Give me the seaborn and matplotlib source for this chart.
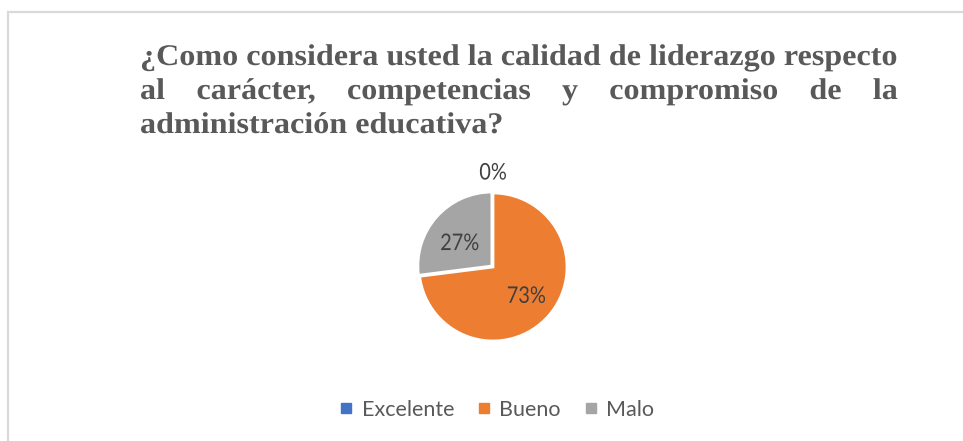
import matplotlib
matplotlib.use("Agg")
import matplotlib.pyplot as plt
import seaborn as sns
from matplotlib.patches import Rectangle
from matplotlib.lines import Line2D
from matplotlib.patheffects import AbstractPathEffect
from matplotlib.transforms import Affine2D
import numpy as np

categories = ["Excelente", "Bueno", "Malo"]
values = [0, 73, 27]
colors = ["#4472C4", "#ED7D31", "#A5A5A5"]
title_lines = ["¿Como considera usted la calidad de liderazgo respecto",
               "al carácter, competencias y compromiso de la",
               "administración educativa?"]

sns.set_theme(style="white")
plt.rcParams['font.family'] = ['Lato', 'DejaVu Sans']


class XScale(AbstractPathEffect):
    """Horizontally condense drawn text around an anchor x (display px)."""
    def __init__(self, sx, x0):
        super().__init__()
        self.sx = sx
        self.x0 = x0

    def draw_path(self, renderer, gc, tpath, affine, rgbFace=None):
        aff = affine + Affine2D().translate(-self.x0, 0).scale(self.sx, 1).translate(self.x0, 0)
        renderer.draw_path(gc, tpath, aff, rgbFace)


W, H = 963, 441
fig = plt.figure(figsize=(W / 100, H / 100), dpi=100)
fig.patch.set_facecolor("white")

# chart border (light gray, cropped on right/bottom)
border = Rectangle((8 / W, -0.1), 1.2, (H - 12) / H + 0.1, transform=fig.transFigure,
                   fill=False, edgecolor="#D9D9D9", linewidth=1.6)
fig.add_artist(border)

# Pie axes
cx, cy, r = 493, 267, 74
ax = fig.add_axes([(cx - r) / W, (H - cy - r) / H, 2 * r / W, 2 * r / H])
wedges, _ = ax.pie(values, colors=colors, startangle=90, counterclock=False,
                   explode=[0, 0, 0.02],
                   wedgeprops=dict(edgecolor="white", linewidth=2), radius=1)
ax.set_xlim(-1, 1)
ax.set_ylim(-1, 1)
ax.set_aspect("equal")
ax.axis("off")

fig.canvas.draw()
renderer = fig.canvas.get_renderer()

total = sum(values)
for w, v in zip(wedges, values):
    ang = np.deg2rad((w.theta1 + w.theta2) / 2)
    d = 0.6 if v > 0 else 1.27
    lx, ly = d * np.cos(ang), d * np.sin(ang)
    if v > 0 and ly > 0:
        ly -= 0.08
    px = ax.transData.transform((lx, ly))[0]
    ax.text(lx, ly, f"{round(100 * v / total)}%",
            ha="center", va="center", fontsize=16.5, color="#404040", clip_on=False,
            path_effects=[XScale(0.87, px)])

# Title (serif bold, condensed, justified)
x0, x1 = 140, 898
tcolor = "#595959"
tfont = dict(family="Liberation Serif", weight="bold", color=tcolor)
fsize = 21.6


def text_width(s, size):
    t = fig.text(0, 0, s, fontsize=size, **tfont)
    w = t.get_window_extent(renderer).width
    t.remove()
    return w


sx = (x1 - x0) / text_width(title_lines[0], fsize)
ys = [65, 99, 133]
fig.text(x0 / W, 1 - ys[0] / H, title_lines[0], fontsize=fsize, va="baseline", ha="left",
         path_effects=[XScale(sx, x0)], **tfont)
words = title_lines[1].split(" ")
widths = [text_width(wd, fsize) * sx for wd in words]
gap = ((x1 - x0) - sum(widths)) / (len(words) - 1)
x = x0
for wd, wdt in zip(words, widths):
    fig.text(x / W, 1 - ys[1] / H, wd, fontsize=fsize, va="baseline", ha="left",
             path_effects=[XScale(sx, x)], **tfont)
    x += wdt + gap
fig.text(x0 / W, 1 - ys[2] / H, title_lines[2], fontsize=fsize, va="baseline", ha="left",
         path_effects=[XScale(sx, x0)], **tfont)

# Legend
handles = [Line2D([], [], marker="s", linestyle="none", markersize=6.5,
                  markerfacecolor=c, markeredgecolor=c) for c in colors]
fig.legend(handles, categories, loc="center", bbox_to_anchor=(497 / W, 1 - 410 / H),
           ncol=3, frameon=False, fontsize=15.5, labelcolor="#595959",
           handlelength=0.6, handletextpad=0.4, columnspacing=1.1)

fig.savefig("out.png", dpi=100, facecolor="white")
